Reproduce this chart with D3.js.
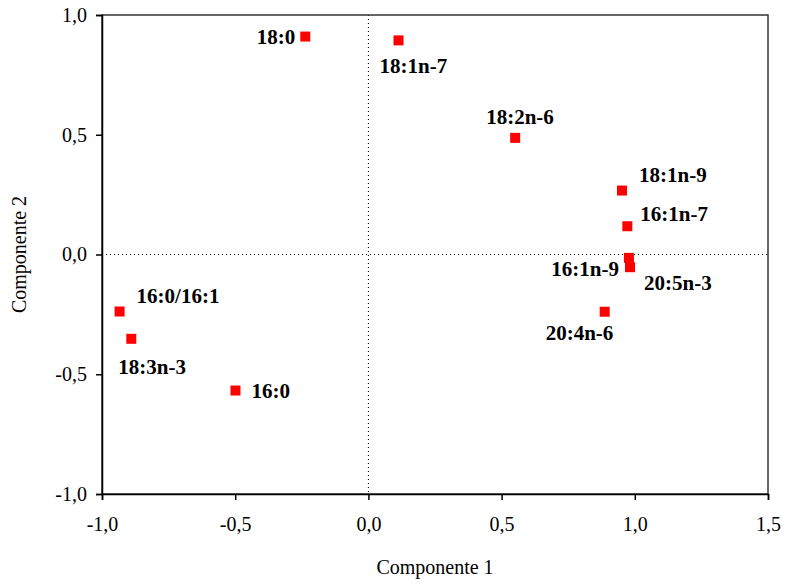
<!DOCTYPE html>
<html>
<head>
<meta charset="utf-8">
<script src="https://cdn.jsdelivr.net/npm/d3@7"></script>
<style>
  body { margin: 0; background: #fff; }
  svg text { font-family: "Liberation Serif", "Times New Roman", Tinos, "DejaVu Serif", serif; }
</style>
</head>
<body>
<div id="Area"></div>
<script>
// fatty acid loadings on the two components
let names = ["18:0", "18:1n-7", "18:2n-6", "18:1n-9", "16:1n-7", "16:1n-9", "20:5n-3", "20:4n-6", "16:0/16:1", "18:3n-3", "16:0"];
let comp1 = [-0.237, 0.113, 0.551, 0.952, 0.972, 0.978, 0.982, 0.887, -0.934, -0.890, -0.499];
let comp2 = [0.910, 0.894, 0.487, 0.267, 0.118, -0.014, -0.053, -0.239, -0.238, -0.352, -0.568];
let xTicks = [-1.0, -0.5, 0.0, 0.5, 1.0, 1.5];
let yTicks = [-1.0, -0.5, 0.0, 0.5, 1.0];

// where each label sits relative to its marker
let labelPlace = {
    "18:0": [-10, 7, "end"],
    "16:0": [16, 7, "start"],
    "18:1n-7": [-19, 33, "start"],
    "18:2n-6": [-29, -14, "start"],
    "18:1n-9": [17, -9, "start"],
    "16:1n-7": [13, -5, "start"],
    "16:1n-9": [-10, 18, "end"],
    "20:5n-3": [14, 23, "start"],
    "20:4n-6": [-59, 28, "start"],
    "16:0/16:1": [17, -9, "start"],
    "18:3n-3": [-13, 35, "start"]
};

const serif = "'Liberation Serif', 'Times New Roman', Tinos, 'DejaVu Serif', serif";
let fmt = d => d3.format(".1f")(d).replace(".", ",").replace("−", "-");

var margin = {top: 15, right: 17, bottom: 91, left: 102},
    width = 785 - margin.left - margin.right,
    height = 585 - margin.top - margin.bottom;

var svg = d3.select("#Area")
    .append("svg")
    .attr("width", 785)
    .attr("height", 585);

var g = svg.append("g")
    .attr("transform", "translate(" + margin.left + "," + margin.top + ")");

var x = d3.scaleLinear().domain([-1, 1.5]).range([0, width]);
var y = d3.scaleLinear().domain([-1, 1]).range([height, 0]);

// zero lines
g.append("line")
    .attr("x1", x(0)).attr("x2", x(0))
    .attr("y1", 0).attr("y2", height)
    .attr("stroke", "#000").attr("stroke-width", 1)
    .attr("stroke-dasharray", "1,3");
g.append("line")
    .attr("x1", 0).attr("x2", width)
    .attr("y1", y(0)).attr("y2", y(0))
    .attr("stroke", "#000").attr("stroke-width", 1)
    .attr("stroke-dasharray", "1,3");

// frame
g.append("rect")
    .attr("width", width).attr("height", height)
    .attr("fill", "none").attr("stroke", "#333").attr("stroke-width", 1.5);

var xAxis = g.append("g")
    .attr("transform", "translate(0," + height + ")")
    .call(d3.axisBottom(x).tickValues(xTicks).tickFormat(fmt).tickSizeOuter(0).tickSize(6).tickPadding(17));
var yAxis = g.append("g")
    .call(d3.axisLeft(y).tickValues(yTicks).tickFormat(fmt).tickSizeOuter(0).tickSize(6).tickPadding(9));

[xAxis, yAxis].forEach(a => {
    a.attr("font-family", null).attr("font-size", null);
    a.select(".domain").attr("stroke", "#000").attr("stroke-width", 1.5);
    a.selectAll(".tick line").attr("stroke", "#000").attr("stroke-width", 1.5);
    a.selectAll(".tick text")
        .attr("fill", "#000")
        .style("font-family", serif)
        .style("font-size", "20px");
});

// markers
let pts = names.map((n, i) => ({name: n, c1: comp1[i], c2: comp2[i]}));

g.selectAll(".pt")
    .data(pts)
    .enter()
    .append("rect")
    .attr("class", "pt")
    .attr("x", d => x(d.c1) - 5)
    .attr("y", d => y(d.c2) - 5)
    .attr("width", 10)
    .attr("height", 10)
    .attr("fill", "#ff0000");

g.selectAll(".lbl")
    .data(pts)
    .enter()
    .append("text")
    .attr("class", "lbl")
    .attr("x", d => x(d.c1) + labelPlace[d.name][0])
    .attr("y", d => y(d.c2) + labelPlace[d.name][1])
    .attr("text-anchor", d => labelPlace[d.name][2])
    .style("font-family", serif)
    .style("font-size", "21px")
    .style("font-weight", "bold")
    .text(d => d.name);

// axis titles
svg.append("text")
    .attr("x", margin.left + x(0.25))
    .attr("y", 574)
    .attr("text-anchor", "middle")
    .style("font-family", serif)
    .style("font-size", "20px")
    .text("Componente 1");

svg.append("text")
    .attr("transform", "translate(26," + (margin.top + y(0)) + ") rotate(-90)")
    .attr("text-anchor", "middle")
    .style("font-family", serif)
    .style("font-size", "20px")
    .text("Componente 2");
</script>
</body>
</html>
